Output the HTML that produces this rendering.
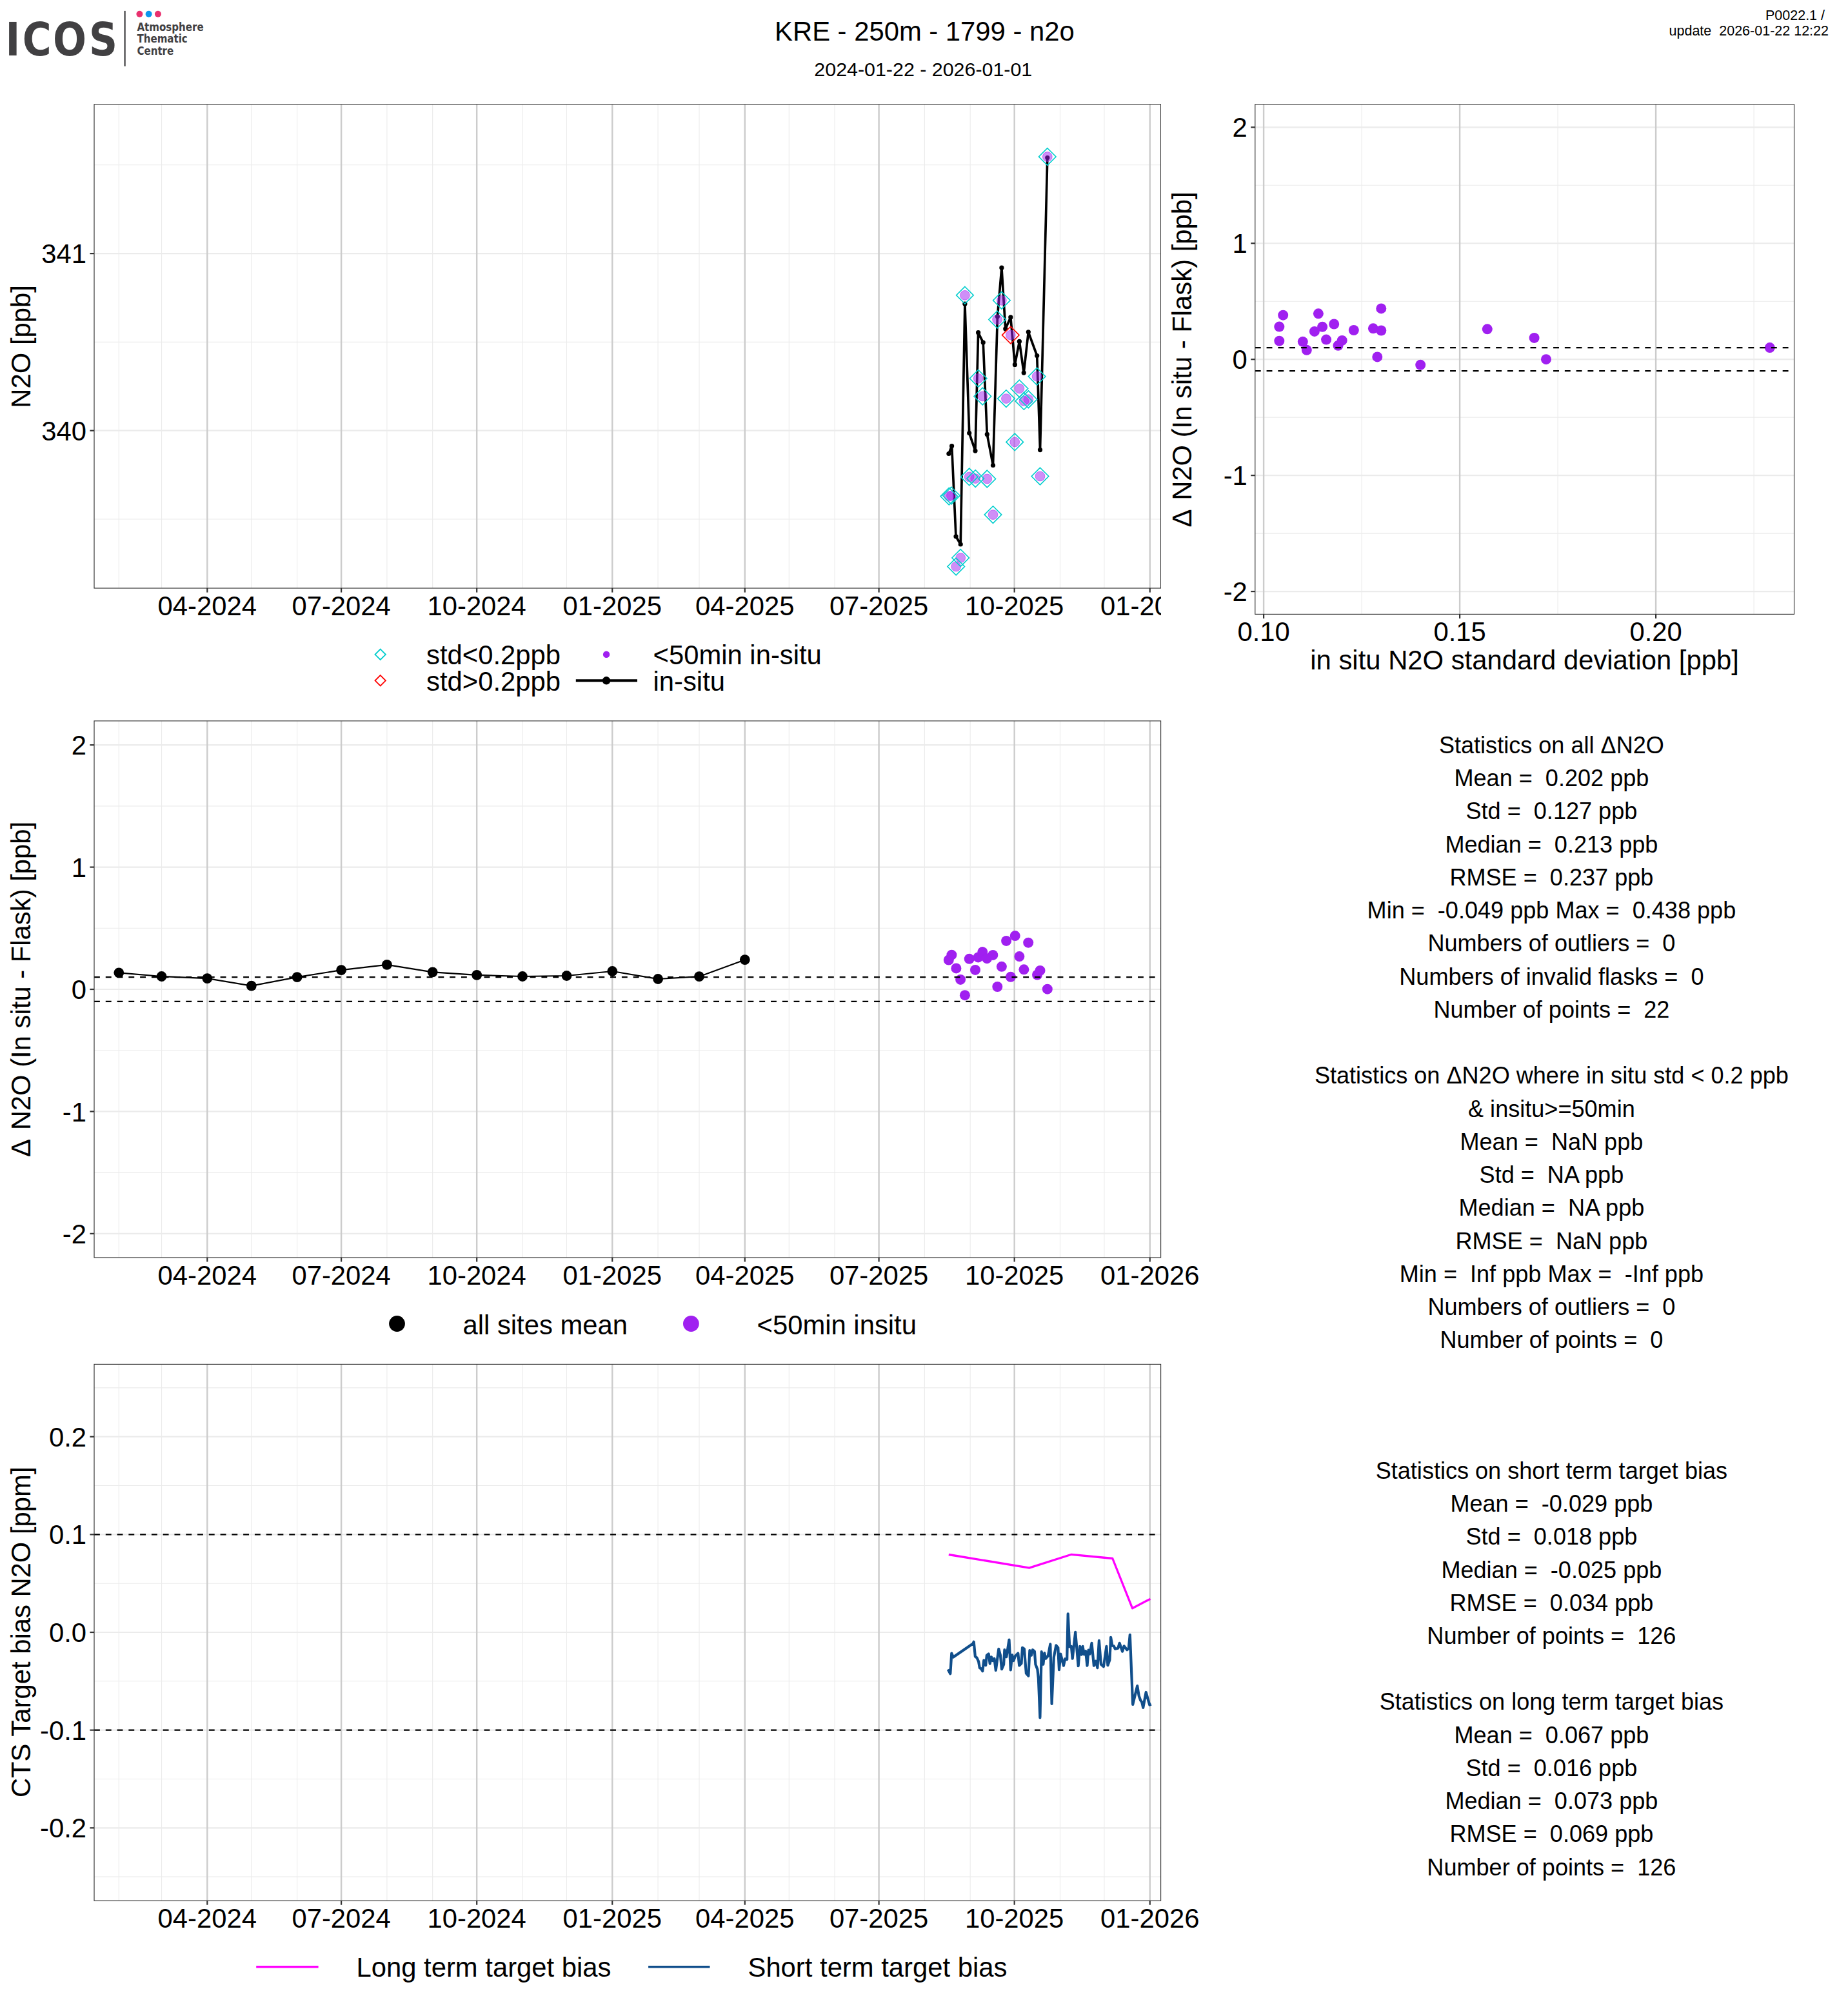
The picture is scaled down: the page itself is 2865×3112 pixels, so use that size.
<!DOCTYPE html>
<html lang="en"><head><meta charset="utf-8"><title>KRE - 250m - 1799 - n2o</title>
<style>html,body{margin:0;padding:0;background:#fff}body{width:2865px;height:3112px;overflow:hidden}svg{display:block}text{font-family:"Liberation Sans",sans-serif;fill:#000;white-space:pre}.b{font-family:"DejaVu Sans Condensed","DejaVu Sans",sans-serif;font-stretch:condensed;font-weight:bold;fill:#414042}</style>
</head><body>
<svg width="2865" height="3112" viewBox="0 0 2865 3112">
<rect width="2865" height="3112" fill="#fff"/>
<text class="b" transform="scale(0.96,1)" x="8.92 36.08 85.52 143.70" y="85.6" font-size="70.8">ICOS</text>
<line x1="193.6" x2="193.6" y1="16.9" y2="102.7" stroke="#414042" stroke-width="2.2"/>
<circle cx="216.4" cy="21.7" r="5" fill="#e8306e"/><circle cx="230.6" cy="21.7" r="5" fill="#0c96ee"/><circle cx="244.9" cy="21.7" r="5" fill="#e8306e"/>
<text class="b" x="212.4" y="47.5" font-size="16.75">Atmosphere</text>
<text class="b" x="212.4" y="65.9" font-size="16.75">Thematic</text>
<text class="b" x="212.4" y="84.6" font-size="16.75">Centre</text>
<text x="1433.40" y="62.90" font-size="41.8" text-anchor="middle" >KRE - 250m - 1799 - n2o</text>
<text x="1431.30" y="117.50" font-size="30.4" text-anchor="middle" >2024-01-22 - 2026-01-01</text>
<text x="2835.00" y="30.50" font-size="21.5" text-anchor="end" >P0022.1 / </text>
<text x="2835.00" y="54.50" font-size="21.5" text-anchor="end" >update  2026-01-22 12:22</text>
<clipPath id="c1"><rect x="146" y="161.8" width="1653.60" height="750.20"/></clipPath>
<g clip-path="url(#c1)">
<rect x="146" y="161.8" width="1653.60" height="750.20" fill="#fff"/>
<line x1="146" x2="1799.6" y1="255.80" y2="255.80" stroke="#ebebeb" stroke-width="1.1"/>
<line x1="146" x2="1799.6" y1="530.40" y2="530.40" stroke="#ebebeb" stroke-width="1.1"/>
<line x1="146" x2="1799.6" y1="805.00" y2="805.00" stroke="#ebebeb" stroke-width="1.1"/>
<line y1="161.8" y2="912" x1="113.50" x2="113.50" stroke="#ebebeb" stroke-width="1.1"/>
<line y1="161.8" y2="912" x1="184.29" x2="184.29" stroke="#ebebeb" stroke-width="1.1"/>
<line y1="161.8" y2="912" x1="250.51" x2="250.51" stroke="#ebebeb" stroke-width="1.1"/>
<line y1="161.8" y2="912" x1="321.30" x2="321.30" stroke="#ebebeb" stroke-width="1.1"/>
<line y1="161.8" y2="912" x1="389.81" x2="389.81" stroke="#ebebeb" stroke-width="1.1"/>
<line y1="161.8" y2="912" x1="460.59" x2="460.59" stroke="#ebebeb" stroke-width="1.1"/>
<line y1="161.8" y2="912" x1="529.10" x2="529.10" stroke="#ebebeb" stroke-width="1.1"/>
<line y1="161.8" y2="912" x1="599.89" x2="599.89" stroke="#ebebeb" stroke-width="1.1"/>
<line y1="161.8" y2="912" x1="670.68" x2="670.68" stroke="#ebebeb" stroke-width="1.1"/>
<line y1="161.8" y2="912" x1="739.18" x2="739.18" stroke="#ebebeb" stroke-width="1.1"/>
<line y1="161.8" y2="912" x1="809.97" x2="809.97" stroke="#ebebeb" stroke-width="1.1"/>
<line y1="161.8" y2="912" x1="878.47" x2="878.47" stroke="#ebebeb" stroke-width="1.1"/>
<line y1="161.8" y2="912" x1="949.26" x2="949.26" stroke="#ebebeb" stroke-width="1.1"/>
<line y1="161.8" y2="912" x1="1020.05" x2="1020.05" stroke="#ebebeb" stroke-width="1.1"/>
<line y1="161.8" y2="912" x1="1083.99" x2="1083.99" stroke="#ebebeb" stroke-width="1.1"/>
<line y1="161.8" y2="912" x1="1154.78" x2="1154.78" stroke="#ebebeb" stroke-width="1.1"/>
<line y1="161.8" y2="912" x1="1223.28" x2="1223.28" stroke="#ebebeb" stroke-width="1.1"/>
<line y1="161.8" y2="912" x1="1294.07" x2="1294.07" stroke="#ebebeb" stroke-width="1.1"/>
<line y1="161.8" y2="912" x1="1362.58" x2="1362.58" stroke="#ebebeb" stroke-width="1.1"/>
<line y1="161.8" y2="912" x1="1433.36" x2="1433.36" stroke="#ebebeb" stroke-width="1.1"/>
<line y1="161.8" y2="912" x1="1504.15" x2="1504.15" stroke="#ebebeb" stroke-width="1.1"/>
<line y1="161.8" y2="912" x1="1572.66" x2="1572.66" stroke="#ebebeb" stroke-width="1.1"/>
<line y1="161.8" y2="912" x1="1643.45" x2="1643.45" stroke="#ebebeb" stroke-width="1.1"/>
<line y1="161.8" y2="912" x1="1711.95" x2="1711.95" stroke="#ebebeb" stroke-width="1.1"/>
<line y1="161.8" y2="912" x1="1782.74" x2="1782.74" stroke="#ebebeb" stroke-width="1.1"/>
<line x1="146" x2="1799.6" y1="393.10" y2="393.10" stroke="#ebebeb" stroke-width="2.2"/>
<line x1="146" x2="1799.6" y1="667.70" y2="667.70" stroke="#ebebeb" stroke-width="2.2"/>
<line y1="161.8" y2="912" x1="321.30" x2="321.30" stroke="#cccccc" stroke-width="2.4"/>
<line y1="161.8" y2="912" x1="529.10" x2="529.10" stroke="#cccccc" stroke-width="2.4"/>
<line y1="161.8" y2="912" x1="739.18" x2="739.18" stroke="#cccccc" stroke-width="2.4"/>
<line y1="161.8" y2="912" x1="949.26" x2="949.26" stroke="#cccccc" stroke-width="2.4"/>
<line y1="161.8" y2="912" x1="1154.78" x2="1154.78" stroke="#cccccc" stroke-width="2.4"/>
<line y1="161.8" y2="912" x1="1362.58" x2="1362.58" stroke="#cccccc" stroke-width="2.4"/>
<line y1="161.8" y2="912" x1="1572.66" x2="1572.66" stroke="#cccccc" stroke-width="2.4"/>
<line y1="161.8" y2="912" x1="1782.74" x2="1782.74" stroke="#cccccc" stroke-width="2.4"/>
</g>
<g clip-path="url(#c1)">
<polyline fill="none" stroke="#000" stroke-width="3.7" stroke-linejoin="round" points="1470.9,703.5 1475.6,691.5 1482.0,831.8 1489.2,844.0 1495.9,471.2 1502.7,671.6 1512.0,699.1 1516.6,515.7 1524.2,531.1 1530.3,673.4 1539.5,721.5 1546.4,490.8 1552.9,415.2 1558.8,509.9 1566.8,491.9 1573.4,565.4 1580.4,529.4 1587.2,578.1 1594.3,514.8 1607.7,551.5 1612.5,697.6 1623.8,244.5"/>
<circle cx="1470.9" cy="703.5" r="3.6" fill="#000"/>
<circle cx="1475.6" cy="691.5" r="3.6" fill="#000"/>
<circle cx="1482.0" cy="831.8" r="3.6" fill="#000"/>
<circle cx="1489.2" cy="844.0" r="3.6" fill="#000"/>
<circle cx="1495.9" cy="471.2" r="3.6" fill="#000"/>
<circle cx="1502.7" cy="671.6" r="3.6" fill="#000"/>
<circle cx="1512.0" cy="699.1" r="3.6" fill="#000"/>
<circle cx="1516.6" cy="515.7" r="3.6" fill="#000"/>
<circle cx="1524.2" cy="531.1" r="3.6" fill="#000"/>
<circle cx="1530.3" cy="673.4" r="3.6" fill="#000"/>
<circle cx="1539.5" cy="721.5" r="3.6" fill="#000"/>
<circle cx="1546.4" cy="490.8" r="3.6" fill="#000"/>
<circle cx="1552.9" cy="415.2" r="3.6" fill="#000"/>
<circle cx="1558.8" cy="509.9" r="3.6" fill="#000"/>
<circle cx="1566.8" cy="491.9" r="3.6" fill="#000"/>
<circle cx="1573.4" cy="565.4" r="3.6" fill="#000"/>
<circle cx="1580.4" cy="529.4" r="3.6" fill="#000"/>
<circle cx="1587.2" cy="578.1" r="3.6" fill="#000"/>
<circle cx="1594.3" cy="514.8" r="3.6" fill="#000"/>
<circle cx="1607.7" cy="551.5" r="3.6" fill="#000"/>
<circle cx="1612.5" cy="697.6" r="3.6" fill="#000"/>
<circle cx="1623.8" cy="244.5" r="3.6" fill="#000"/>
<circle cx="1623.8" cy="243.0" r="7.4" fill="#a020f0" fill-opacity="0.5" stroke="#a020f0" stroke-opacity="0.5" stroke-width="1"/>
<circle cx="1495.9" cy="457.8" r="7.4" fill="#a020f0" fill-opacity="0.5" stroke="#a020f0" stroke-opacity="0.5" stroke-width="1"/>
<circle cx="1552.9" cy="465.8" r="7.4" fill="#a020f0" fill-opacity="0.5" stroke="#a020f0" stroke-opacity="0.5" stroke-width="1"/>
<circle cx="1546.1" cy="495.5" r="7.4" fill="#a020f0" fill-opacity="0.5" stroke="#a020f0" stroke-opacity="0.5" stroke-width="1"/>
<circle cx="1516.7" cy="586.8" r="7.4" fill="#a020f0" fill-opacity="0.5" stroke="#a020f0" stroke-opacity="0.5" stroke-width="1"/>
<circle cx="1607.6" cy="583.7" r="7.4" fill="#a020f0" fill-opacity="0.5" stroke="#a020f0" stroke-opacity="0.5" stroke-width="1"/>
<circle cx="1580.4" cy="602.5" r="7.4" fill="#a020f0" fill-opacity="0.5" stroke="#a020f0" stroke-opacity="0.5" stroke-width="1"/>
<circle cx="1523.3" cy="614.5" r="7.4" fill="#a020f0" fill-opacity="0.5" stroke="#a020f0" stroke-opacity="0.5" stroke-width="1"/>
<circle cx="1559.9" cy="618.1" r="7.4" fill="#a020f0" fill-opacity="0.5" stroke="#a020f0" stroke-opacity="0.5" stroke-width="1"/>
<circle cx="1587.4" cy="621.9" r="7.4" fill="#a020f0" fill-opacity="0.5" stroke="#a020f0" stroke-opacity="0.5" stroke-width="1"/>
<circle cx="1594.4" cy="619.2" r="7.4" fill="#a020f0" fill-opacity="0.5" stroke="#a020f0" stroke-opacity="0.5" stroke-width="1"/>
<circle cx="1573.2" cy="685.4" r="7.4" fill="#a020f0" fill-opacity="0.5" stroke="#a020f0" stroke-opacity="0.5" stroke-width="1"/>
<circle cx="1612.5" cy="738.5" r="7.4" fill="#a020f0" fill-opacity="0.5" stroke="#a020f0" stroke-opacity="0.5" stroke-width="1"/>
<circle cx="1502.7" cy="739.4" r="7.4" fill="#a020f0" fill-opacity="0.5" stroke="#a020f0" stroke-opacity="0.5" stroke-width="1"/>
<circle cx="1512.2" cy="742.1" r="7.4" fill="#a020f0" fill-opacity="0.5" stroke="#a020f0" stroke-opacity="0.5" stroke-width="1"/>
<circle cx="1530.3" cy="742.5" r="7.4" fill="#a020f0" fill-opacity="0.5" stroke="#a020f0" stroke-opacity="0.5" stroke-width="1"/>
<circle cx="1471.3" cy="769.6" r="7.4" fill="#a020f0" fill-opacity="0.5" stroke="#a020f0" stroke-opacity="0.5" stroke-width="1"/>
<circle cx="1474.9" cy="768.5" r="7.4" fill="#a020f0" fill-opacity="0.5" stroke="#a020f0" stroke-opacity="0.5" stroke-width="1"/>
<circle cx="1539.5" cy="798.1" r="7.4" fill="#a020f0" fill-opacity="0.5" stroke="#a020f0" stroke-opacity="0.5" stroke-width="1"/>
<circle cx="1489.2" cy="865.0" r="7.4" fill="#a020f0" fill-opacity="0.5" stroke="#a020f0" stroke-opacity="0.5" stroke-width="1"/>
<circle cx="1482.2" cy="878.5" r="7.4" fill="#a020f0" fill-opacity="0.5" stroke="#a020f0" stroke-opacity="0.5" stroke-width="1"/>
<circle cx="1566.8" cy="519.6" r="7.4" fill="#a020f0" fill-opacity="0.5" stroke="#a020f0" stroke-opacity="0.5" stroke-width="1"/>
<path d="M1623.8 229.7L1637.1 243.0L1623.8 256.3L1610.5 243.0Z" fill="none" stroke="#00cdcd" stroke-width="1.6"/>
<path d="M1495.9 444.5L1509.2 457.8L1495.9 471.1L1482.6 457.8Z" fill="none" stroke="#00cdcd" stroke-width="1.6"/>
<path d="M1552.9 452.5L1566.2 465.8L1552.9 479.1L1539.6 465.8Z" fill="none" stroke="#00cdcd" stroke-width="1.6"/>
<path d="M1546.1 482.2L1559.4 495.5L1546.1 508.8L1532.8 495.5Z" fill="none" stroke="#00cdcd" stroke-width="1.6"/>
<path d="M1516.7 573.5L1530.0 586.8L1516.7 600.1L1503.4 586.8Z" fill="none" stroke="#00cdcd" stroke-width="1.6"/>
<path d="M1607.6 570.4L1620.9 583.7L1607.6 597.0L1594.3 583.7Z" fill="none" stroke="#00cdcd" stroke-width="1.6"/>
<path d="M1580.4 589.2L1593.7 602.5L1580.4 615.8L1567.1 602.5Z" fill="none" stroke="#00cdcd" stroke-width="1.6"/>
<path d="M1523.3 601.2L1536.6 614.5L1523.3 627.8L1510.0 614.5Z" fill="none" stroke="#00cdcd" stroke-width="1.6"/>
<path d="M1559.9 604.8L1573.2 618.1L1559.9 631.4L1546.6 618.1Z" fill="none" stroke="#00cdcd" stroke-width="1.6"/>
<path d="M1587.4 608.6L1600.7 621.9L1587.4 635.2L1574.1 621.9Z" fill="none" stroke="#00cdcd" stroke-width="1.6"/>
<path d="M1594.4 605.9L1607.7 619.2L1594.4 632.5L1581.1 619.2Z" fill="none" stroke="#00cdcd" stroke-width="1.6"/>
<path d="M1573.2 672.1L1586.5 685.4L1573.2 698.7L1559.9 685.4Z" fill="none" stroke="#00cdcd" stroke-width="1.6"/>
<path d="M1612.5 725.2L1625.8 738.5L1612.5 751.8L1599.2 738.5Z" fill="none" stroke="#00cdcd" stroke-width="1.6"/>
<path d="M1502.7 726.1L1516.0 739.4L1502.7 752.7L1489.4 739.4Z" fill="none" stroke="#00cdcd" stroke-width="1.6"/>
<path d="M1512.2 728.8L1525.5 742.1L1512.2 755.4L1498.9 742.1Z" fill="none" stroke="#00cdcd" stroke-width="1.6"/>
<path d="M1530.3 729.2L1543.6 742.5L1530.3 755.8L1517.0 742.5Z" fill="none" stroke="#00cdcd" stroke-width="1.6"/>
<path d="M1471.3 756.3L1484.6 769.6L1471.3 782.9L1458.0 769.6Z" fill="none" stroke="#00cdcd" stroke-width="1.6"/>
<path d="M1474.9 755.2L1488.2 768.5L1474.9 781.8L1461.6 768.5Z" fill="none" stroke="#00cdcd" stroke-width="1.6"/>
<path d="M1539.5 784.8L1552.8 798.1L1539.5 811.4L1526.2 798.1Z" fill="none" stroke="#00cdcd" stroke-width="1.6"/>
<path d="M1489.2 851.7L1502.5 865.0L1489.2 878.3L1475.9 865.0Z" fill="none" stroke="#00cdcd" stroke-width="1.6"/>
<path d="M1482.2 865.2L1495.5 878.5L1482.2 891.8L1468.9 878.5Z" fill="none" stroke="#00cdcd" stroke-width="1.6"/>
<path d="M1566.8 506.3L1580.1 519.6L1566.8 532.9L1553.5 519.6Z" fill="none" stroke="#ff0000" stroke-width="1.6"/>
</g>
<clipPath id="cx1"><rect x="0" y="100" width="1800" height="900"/></clipPath>
<g clip-path="url(#cx1)">
<rect x="146" y="161.8" width="1653.60" height="750.20" fill="none" stroke="#333333" stroke-width="1.15"/>
</g>
<line x1="321.30" x2="321.30" y1="912" y2="918.60" stroke="#333333" stroke-width="2.2"/>
<line x1="529.10" x2="529.10" y1="912" y2="918.60" stroke="#333333" stroke-width="2.2"/>
<line x1="739.18" x2="739.18" y1="912" y2="918.60" stroke="#333333" stroke-width="2.2"/>
<line x1="949.26" x2="949.26" y1="912" y2="918.60" stroke="#333333" stroke-width="2.2"/>
<line x1="1154.78" x2="1154.78" y1="912" y2="918.60" stroke="#333333" stroke-width="2.2"/>
<line x1="1362.58" x2="1362.58" y1="912" y2="918.60" stroke="#333333" stroke-width="2.2"/>
<line x1="1572.66" x2="1572.66" y1="912" y2="918.60" stroke="#333333" stroke-width="2.2"/>
<line x1="1782.74" x2="1782.74" y1="912" y2="918.60" stroke="#333333" stroke-width="2.2"/>
<line y1="393.10" y2="393.10" x1="139.40" x2="146" stroke="#333333" stroke-width="2.2"/>
<line y1="667.70" y2="667.70" x1="139.40" x2="146" stroke="#333333" stroke-width="2.2"/>
<g clip-path="url(#cx1)">
<text x="321.30" y="953.80" font-size="41.8" text-anchor="middle" >04-2024</text>
<text x="529.10" y="953.80" font-size="41.8" text-anchor="middle" >07-2024</text>
<text x="739.18" y="953.80" font-size="41.8" text-anchor="middle" >10-2024</text>
<text x="949.26" y="953.80" font-size="41.8" text-anchor="middle" >01-2025</text>
<text x="1154.78" y="953.80" font-size="41.8" text-anchor="middle" >04-2025</text>
<text x="1362.58" y="953.80" font-size="41.8" text-anchor="middle" >07-2025</text>
<text x="1572.66" y="953.80" font-size="41.8" text-anchor="middle" >10-2025</text>
<text x="1782.74" y="953.80" font-size="41.8" text-anchor="middle" >01-2026</text>
</g>
<text x="134.00" y="408.20" font-size="41.8" text-anchor="end" >341</text>
<text x="134.00" y="682.80" font-size="41.8" text-anchor="end" >340</text>
<text transform="translate(47.00,537.40) rotate(-90)" font-size="41.8" text-anchor="middle">N2O [ppb]</text>
<path d="M589.7 1006.6L597.9 1014.8L589.7 1023.0L581.5 1014.8Z" fill="none" stroke="#00cdcd" stroke-width="1.8"/>
<path d="M589.7 1047.1L597.9 1055.3L589.7 1063.5L581.5 1055.3Z" fill="none" stroke="#ff0000" stroke-width="1.8"/>
<text x="661.00" y="1030.20" font-size="41.8" text-anchor="start" >std&lt;0.2ppb</text>
<text x="661.00" y="1070.90" font-size="41.8" text-anchor="start" >std&gt;0.2ppb</text>
<circle cx="940.1" cy="1014.8" r="5.2" fill="#a020f0"/>
<line x1="892.8" x2="988" y1="1055.3" y2="1055.3" stroke="#000" stroke-width="3.9"/><circle cx="940.1" cy="1055.3" r="6.2" fill="#000"/>
<text x="1012.50" y="1030.20" font-size="41.8" text-anchor="start" >&lt;50min in-situ</text>
<text x="1012.50" y="1070.90" font-size="41.8" text-anchor="start" >in-situ</text>
<clipPath id="c2"><rect x="1945.8" y="161.8" width="835.70" height="790.60"/></clipPath>
<g clip-path="url(#c2)">
<rect x="1945.8" y="161.8" width="835.70" height="790.60" fill="#fff"/>
<line x1="1945.8" x2="2781.5" y1="287.29" y2="287.29" stroke="#ebebeb" stroke-width="1.1"/>
<line x1="1945.8" x2="2781.5" y1="467.23" y2="467.23" stroke="#ebebeb" stroke-width="1.1"/>
<line x1="1945.8" x2="2781.5" y1="647.17" y2="647.17" stroke="#ebebeb" stroke-width="1.1"/>
<line x1="1945.8" x2="2781.5" y1="827.11" y2="827.11" stroke="#ebebeb" stroke-width="1.1"/>
<line y1="161.8" y2="952.4" x1="2111.10" x2="2111.10" stroke="#ebebeb" stroke-width="1.1"/>
<line y1="161.8" y2="952.4" x1="2415.10" x2="2415.10" stroke="#ebebeb" stroke-width="1.1"/>
<line y1="161.8" y2="952.4" x1="2719.10" x2="2719.10" stroke="#ebebeb" stroke-width="1.1"/>
<line x1="1945.8" x2="2781.5" y1="197.32" y2="197.32" stroke="#ebebeb" stroke-width="2.2"/>
<line x1="1945.8" x2="2781.5" y1="377.26" y2="377.26" stroke="#ebebeb" stroke-width="2.2"/>
<line x1="1945.8" x2="2781.5" y1="557.20" y2="557.20" stroke="#ebebeb" stroke-width="2.2"/>
<line x1="1945.8" x2="2781.5" y1="737.14" y2="737.14" stroke="#ebebeb" stroke-width="2.2"/>
<line x1="1945.8" x2="2781.5" y1="917.08" y2="917.08" stroke="#ebebeb" stroke-width="2.2"/>
<line y1="161.8" y2="952.4" x1="1959.10" x2="1959.10" stroke="#cccccc" stroke-width="2.4"/>
<line y1="161.8" y2="952.4" x1="2263.10" x2="2263.10" stroke="#cccccc" stroke-width="2.4"/>
<line y1="161.8" y2="952.4" x1="2567.10" x2="2567.10" stroke="#cccccc" stroke-width="2.4"/>
</g>
<g clip-path="url(#c2)">
<circle cx="1989.2" cy="488.7" r="8" fill="#a020f0"/>
<circle cx="1983.3" cy="506.6" r="8" fill="#a020f0"/>
<circle cx="1983.3" cy="528.7" r="8" fill="#a020f0"/>
<circle cx="2019.8" cy="529.8" r="8" fill="#a020f0"/>
<circle cx="2025.8" cy="542.8" r="8" fill="#a020f0"/>
<circle cx="2037.9" cy="513.9" r="8" fill="#a020f0"/>
<circle cx="2043.9" cy="486.3" r="8" fill="#a020f0"/>
<circle cx="2050.1" cy="506.8" r="8" fill="#a020f0"/>
<circle cx="2056.1" cy="526.6" r="8" fill="#a020f0"/>
<circle cx="2068.2" cy="502.5" r="8" fill="#a020f0"/>
<circle cx="2074.5" cy="535.8" r="8" fill="#a020f0"/>
<circle cx="2080.7" cy="527.9" r="8" fill="#a020f0"/>
<circle cx="2098.8" cy="512.0" r="8" fill="#a020f0"/>
<circle cx="2128.9" cy="509.3" r="8" fill="#a020f0"/>
<circle cx="2141.3" cy="478.4" r="8" fill="#a020f0"/>
<circle cx="2141.3" cy="512.5" r="8" fill="#a020f0"/>
<circle cx="2135.3" cy="553.4" r="8" fill="#a020f0"/>
<circle cx="2202.2" cy="565.8" r="8" fill="#a020f0"/>
<circle cx="2305.8" cy="510.3" r="8" fill="#a020f0"/>
<circle cx="2378.6" cy="523.9" r="8" fill="#a020f0"/>
<circle cx="2397.0" cy="557.2" r="8" fill="#a020f0"/>
<circle cx="2743.8" cy="539.1" r="8" fill="#a020f0"/>
</g>
<line x1="1945.8" x2="2781.5" y1="539.21" y2="539.21" stroke="#000" stroke-width="2.3" stroke-dasharray="8.89 8.89" clip-path="url(#c2)"/>
<line x1="1945.8" x2="2781.5" y1="575.19" y2="575.19" stroke="#000" stroke-width="2.3" stroke-dasharray="8.89 8.89" clip-path="url(#c2)"/>
<rect x="1945.8" y="161.8" width="835.70" height="790.60" fill="none" stroke="#333333" stroke-width="1.15"/>
<line x1="1959.10" x2="1959.10" y1="952.4" y2="959.00" stroke="#333333" stroke-width="2.2"/>
<line x1="2263.10" x2="2263.10" y1="952.4" y2="959.00" stroke="#333333" stroke-width="2.2"/>
<line x1="2567.10" x2="2567.10" y1="952.4" y2="959.00" stroke="#333333" stroke-width="2.2"/>
<line y1="197.32" y2="197.32" x1="1939.20" x2="1945.8" stroke="#333333" stroke-width="2.2"/>
<line y1="377.26" y2="377.26" x1="1939.20" x2="1945.8" stroke="#333333" stroke-width="2.2"/>
<line y1="557.20" y2="557.20" x1="1939.20" x2="1945.8" stroke="#333333" stroke-width="2.2"/>
<line y1="737.14" y2="737.14" x1="1939.20" x2="1945.8" stroke="#333333" stroke-width="2.2"/>
<line y1="917.08" y2="917.08" x1="1939.20" x2="1945.8" stroke="#333333" stroke-width="2.2"/>
<text x="1959.10" y="994.20" font-size="41.8" text-anchor="middle" >0.10</text>
<text x="2263.10" y="994.20" font-size="41.8" text-anchor="middle" >0.15</text>
<text x="2567.10" y="994.20" font-size="41.8" text-anchor="middle" >0.20</text>
<text x="1933.80" y="212.42" font-size="41.8" text-anchor="end" >2</text>
<text x="1933.80" y="392.36" font-size="41.8" text-anchor="end" >1</text>
<text x="1933.80" y="572.30" font-size="41.8" text-anchor="end" >0</text>
<text x="1933.80" y="752.24" font-size="41.8" text-anchor="end" >-1</text>
<text x="1933.80" y="932.18" font-size="41.8" text-anchor="end" >-2</text>
<text x="2363.60" y="1038.00" font-size="41.8" text-anchor="middle" >in situ N2O standard deviation [ppb]</text>
<text transform="translate(1847.10,557.50) rotate(-90)" font-size="41.8" text-anchor="middle">Δ<tspan dx="4.5"> </tspan>N2O (In situ - Flask) [ppb]</text>
<clipPath id="c3"><rect x="146" y="1117.85" width="1653.60" height="832.10"/></clipPath>
<g clip-path="url(#c3)">
<rect x="146" y="1117.85" width="1653.60" height="832.10" fill="#fff"/>
<line x1="146" x2="1799.6" y1="1249.86" y2="1249.86" stroke="#ebebeb" stroke-width="1.1"/>
<line x1="146" x2="1799.6" y1="1439.29" y2="1439.29" stroke="#ebebeb" stroke-width="1.1"/>
<line x1="146" x2="1799.6" y1="1628.71" y2="1628.71" stroke="#ebebeb" stroke-width="1.1"/>
<line x1="146" x2="1799.6" y1="1818.14" y2="1818.14" stroke="#ebebeb" stroke-width="1.1"/>
<line y1="1117.85" y2="1949.95" x1="113.50" x2="113.50" stroke="#ebebeb" stroke-width="1.1"/>
<line y1="1117.85" y2="1949.95" x1="184.29" x2="184.29" stroke="#ebebeb" stroke-width="1.1"/>
<line y1="1117.85" y2="1949.95" x1="250.51" x2="250.51" stroke="#ebebeb" stroke-width="1.1"/>
<line y1="1117.85" y2="1949.95" x1="321.30" x2="321.30" stroke="#ebebeb" stroke-width="1.1"/>
<line y1="1117.85" y2="1949.95" x1="389.81" x2="389.81" stroke="#ebebeb" stroke-width="1.1"/>
<line y1="1117.85" y2="1949.95" x1="460.59" x2="460.59" stroke="#ebebeb" stroke-width="1.1"/>
<line y1="1117.85" y2="1949.95" x1="529.10" x2="529.10" stroke="#ebebeb" stroke-width="1.1"/>
<line y1="1117.85" y2="1949.95" x1="599.89" x2="599.89" stroke="#ebebeb" stroke-width="1.1"/>
<line y1="1117.85" y2="1949.95" x1="670.68" x2="670.68" stroke="#ebebeb" stroke-width="1.1"/>
<line y1="1117.85" y2="1949.95" x1="739.18" x2="739.18" stroke="#ebebeb" stroke-width="1.1"/>
<line y1="1117.85" y2="1949.95" x1="809.97" x2="809.97" stroke="#ebebeb" stroke-width="1.1"/>
<line y1="1117.85" y2="1949.95" x1="878.47" x2="878.47" stroke="#ebebeb" stroke-width="1.1"/>
<line y1="1117.85" y2="1949.95" x1="949.26" x2="949.26" stroke="#ebebeb" stroke-width="1.1"/>
<line y1="1117.85" y2="1949.95" x1="1020.05" x2="1020.05" stroke="#ebebeb" stroke-width="1.1"/>
<line y1="1117.85" y2="1949.95" x1="1083.99" x2="1083.99" stroke="#ebebeb" stroke-width="1.1"/>
<line y1="1117.85" y2="1949.95" x1="1154.78" x2="1154.78" stroke="#ebebeb" stroke-width="1.1"/>
<line y1="1117.85" y2="1949.95" x1="1223.28" x2="1223.28" stroke="#ebebeb" stroke-width="1.1"/>
<line y1="1117.85" y2="1949.95" x1="1294.07" x2="1294.07" stroke="#ebebeb" stroke-width="1.1"/>
<line y1="1117.85" y2="1949.95" x1="1362.58" x2="1362.58" stroke="#ebebeb" stroke-width="1.1"/>
<line y1="1117.85" y2="1949.95" x1="1433.36" x2="1433.36" stroke="#ebebeb" stroke-width="1.1"/>
<line y1="1117.85" y2="1949.95" x1="1504.15" x2="1504.15" stroke="#ebebeb" stroke-width="1.1"/>
<line y1="1117.85" y2="1949.95" x1="1572.66" x2="1572.66" stroke="#ebebeb" stroke-width="1.1"/>
<line y1="1117.85" y2="1949.95" x1="1643.45" x2="1643.45" stroke="#ebebeb" stroke-width="1.1"/>
<line y1="1117.85" y2="1949.95" x1="1711.95" x2="1711.95" stroke="#ebebeb" stroke-width="1.1"/>
<line y1="1117.85" y2="1949.95" x1="1782.74" x2="1782.74" stroke="#ebebeb" stroke-width="1.1"/>
<line x1="146" x2="1799.6" y1="1155.14" y2="1155.14" stroke="#ebebeb" stroke-width="2.2"/>
<line x1="146" x2="1799.6" y1="1344.57" y2="1344.57" stroke="#ebebeb" stroke-width="2.2"/>
<line x1="146" x2="1799.6" y1="1534.00" y2="1534.00" stroke="#ebebeb" stroke-width="2.2"/>
<line x1="146" x2="1799.6" y1="1723.43" y2="1723.43" stroke="#ebebeb" stroke-width="2.2"/>
<line x1="146" x2="1799.6" y1="1912.86" y2="1912.86" stroke="#ebebeb" stroke-width="2.2"/>
<line y1="1117.85" y2="1949.95" x1="321.30" x2="321.30" stroke="#cccccc" stroke-width="2.4"/>
<line y1="1117.85" y2="1949.95" x1="529.10" x2="529.10" stroke="#cccccc" stroke-width="2.4"/>
<line y1="1117.85" y2="1949.95" x1="739.18" x2="739.18" stroke="#cccccc" stroke-width="2.4"/>
<line y1="1117.85" y2="1949.95" x1="949.26" x2="949.26" stroke="#cccccc" stroke-width="2.4"/>
<line y1="1117.85" y2="1949.95" x1="1154.78" x2="1154.78" stroke="#cccccc" stroke-width="2.4"/>
<line y1="1117.85" y2="1949.95" x1="1362.58" x2="1362.58" stroke="#cccccc" stroke-width="2.4"/>
<line y1="1117.85" y2="1949.95" x1="1572.66" x2="1572.66" stroke="#cccccc" stroke-width="2.4"/>
<line y1="1117.85" y2="1949.95" x1="1782.74" x2="1782.74" stroke="#cccccc" stroke-width="2.4"/>
</g>
<g clip-path="url(#c3)">
<polyline fill="none" stroke="#000" stroke-width="2.2" points="184.3,1508.3 250.5,1514.0 321.3,1517.1 389.8,1528.6 460.6,1515.1 529.1,1504.2 599.9,1495.8 670.7,1507.3 739.2,1511.9 810.0,1514.0 878.5,1513.0 949.3,1506.0 1020.1,1518.0 1084.0,1514.2 1154.8,1488.2"/>
<circle cx="184.3" cy="1508.3" r="7.9" fill="#000"/>
<circle cx="250.5" cy="1514.0" r="7.9" fill="#000"/>
<circle cx="321.3" cy="1517.1" r="7.9" fill="#000"/>
<circle cx="389.8" cy="1528.6" r="7.9" fill="#000"/>
<circle cx="460.6" cy="1515.1" r="7.9" fill="#000"/>
<circle cx="529.1" cy="1504.2" r="7.9" fill="#000"/>
<circle cx="599.9" cy="1495.8" r="7.9" fill="#000"/>
<circle cx="670.7" cy="1507.3" r="7.9" fill="#000"/>
<circle cx="739.2" cy="1511.9" r="7.9" fill="#000"/>
<circle cx="810.0" cy="1514.0" r="7.9" fill="#000"/>
<circle cx="878.5" cy="1513.0" r="7.9" fill="#000"/>
<circle cx="949.3" cy="1506.0" r="7.9" fill="#000"/>
<circle cx="1020.1" cy="1518.0" r="7.9" fill="#000"/>
<circle cx="1084.0" cy="1514.2" r="7.9" fill="#000"/>
<circle cx="1154.8" cy="1488.2" r="7.9" fill="#000"/>
<circle cx="1470.8" cy="1488.5" r="8" fill="#a020f0"/>
<circle cx="1475.4" cy="1480.7" r="8" fill="#a020f0"/>
<circle cx="1482.4" cy="1501.4" r="8" fill="#a020f0"/>
<circle cx="1489.1" cy="1518.9" r="8" fill="#a020f0"/>
<circle cx="1495.9" cy="1543.2" r="8" fill="#a020f0"/>
<circle cx="1502.7" cy="1486.8" r="8" fill="#a020f0"/>
<circle cx="1512.0" cy="1503.9" r="8" fill="#a020f0"/>
<circle cx="1516.5" cy="1484.4" r="8" fill="#a020f0"/>
<circle cx="1523.3" cy="1476.1" r="8" fill="#a020f0"/>
<circle cx="1530.1" cy="1486.2" r="8" fill="#a020f0"/>
<circle cx="1539.3" cy="1480.9" r="8" fill="#a020f0"/>
<circle cx="1546.3" cy="1530.0" r="8" fill="#a020f0"/>
<circle cx="1552.9" cy="1498.8" r="8" fill="#a020f0"/>
<circle cx="1560.1" cy="1458.9" r="8" fill="#a020f0"/>
<circle cx="1566.9" cy="1514.8" r="8" fill="#a020f0"/>
<circle cx="1573.7" cy="1451.1" r="8" fill="#a020f0"/>
<circle cx="1580.4" cy="1483.1" r="8" fill="#a020f0"/>
<circle cx="1587.4" cy="1503.3" r="8" fill="#a020f0"/>
<circle cx="1594.2" cy="1461.7" r="8" fill="#a020f0"/>
<circle cx="1608.0" cy="1511.5" r="8" fill="#a020f0"/>
<circle cx="1612.5" cy="1504.9" r="8" fill="#a020f0"/>
<circle cx="1623.8" cy="1533.7" r="8" fill="#a020f0"/>
</g>
<line x1="146" x2="1799.6" y1="1515.06" y2="1515.06" stroke="#000" stroke-width="2.3" stroke-dasharray="8.89 8.89" clip-path="url(#c3)"/>
<line x1="146" x2="1799.6" y1="1552.94" y2="1552.94" stroke="#000" stroke-width="2.3" stroke-dasharray="8.89 8.89" clip-path="url(#c3)"/>
<rect x="146" y="1117.85" width="1653.60" height="832.10" fill="none" stroke="#333333" stroke-width="1.15"/>
<line x1="321.30" x2="321.30" y1="1949.9" y2="1956.50" stroke="#333333" stroke-width="2.2"/>
<line x1="529.10" x2="529.10" y1="1949.9" y2="1956.50" stroke="#333333" stroke-width="2.2"/>
<line x1="739.18" x2="739.18" y1="1949.9" y2="1956.50" stroke="#333333" stroke-width="2.2"/>
<line x1="949.26" x2="949.26" y1="1949.9" y2="1956.50" stroke="#333333" stroke-width="2.2"/>
<line x1="1154.78" x2="1154.78" y1="1949.9" y2="1956.50" stroke="#333333" stroke-width="2.2"/>
<line x1="1362.58" x2="1362.58" y1="1949.9" y2="1956.50" stroke="#333333" stroke-width="2.2"/>
<line x1="1572.66" x2="1572.66" y1="1949.9" y2="1956.50" stroke="#333333" stroke-width="2.2"/>
<line x1="1782.74" x2="1782.74" y1="1949.9" y2="1956.50" stroke="#333333" stroke-width="2.2"/>
<line y1="1155.14" y2="1155.14" x1="139.40" x2="146" stroke="#333333" stroke-width="2.2"/>
<line y1="1344.57" y2="1344.57" x1="139.40" x2="146" stroke="#333333" stroke-width="2.2"/>
<line y1="1534.00" y2="1534.00" x1="139.40" x2="146" stroke="#333333" stroke-width="2.2"/>
<line y1="1723.43" y2="1723.43" x1="139.40" x2="146" stroke="#333333" stroke-width="2.2"/>
<line y1="1912.86" y2="1912.86" x1="139.40" x2="146" stroke="#333333" stroke-width="2.2"/>
<text x="321.30" y="1991.70" font-size="41.8" text-anchor="middle" >04-2024</text>
<text x="529.10" y="1991.70" font-size="41.8" text-anchor="middle" >07-2024</text>
<text x="739.18" y="1991.70" font-size="41.8" text-anchor="middle" >10-2024</text>
<text x="949.26" y="1991.70" font-size="41.8" text-anchor="middle" >01-2025</text>
<text x="1154.78" y="1991.70" font-size="41.8" text-anchor="middle" >04-2025</text>
<text x="1362.58" y="1991.70" font-size="41.8" text-anchor="middle" >07-2025</text>
<text x="1572.66" y="1991.70" font-size="41.8" text-anchor="middle" >10-2025</text>
<text x="1782.74" y="1991.70" font-size="41.8" text-anchor="middle" >01-2026</text>
<text x="134.00" y="1170.24" font-size="41.8" text-anchor="end" >2</text>
<text x="134.00" y="1359.67" font-size="41.8" text-anchor="end" >1</text>
<text x="134.00" y="1549.10" font-size="41.8" text-anchor="end" >0</text>
<text x="134.00" y="1738.53" font-size="41.8" text-anchor="end" >-1</text>
<text x="134.00" y="1927.96" font-size="41.8" text-anchor="end" >-2</text>
<text transform="translate(47.00,1534.00) rotate(-90)" font-size="41.8" text-anchor="middle">Δ<tspan dx="4.5"> </tspan>N2O (In situ - Flask) [ppb]</text>
<circle cx="615.5" cy="2052.5" r="12.4" fill="#000"/>
<text x="717.50" y="2068.50" font-size="41.8" text-anchor="start" >all sites mean</text>
<circle cx="1071.4" cy="2052.5" r="12.4" fill="#a020f0"/>
<text x="1173.50" y="2068.50" font-size="41.8" text-anchor="start" >&lt;50min insitu</text>
<clipPath id="c4"><rect x="146" y="2115.4" width="1653.60" height="831.80"/></clipPath>
<g clip-path="url(#c4)">
<rect x="146" y="2115.4" width="1653.60" height="831.80" fill="#fff"/>
<line x1="146" x2="1799.6" y1="2151.88" y2="2151.88" stroke="#ebebeb" stroke-width="1.1"/>
<line x1="146" x2="1799.6" y1="2303.53" y2="2303.53" stroke="#ebebeb" stroke-width="1.1"/>
<line x1="146" x2="1799.6" y1="2455.18" y2="2455.18" stroke="#ebebeb" stroke-width="1.1"/>
<line x1="146" x2="1799.6" y1="2606.82" y2="2606.82" stroke="#ebebeb" stroke-width="1.1"/>
<line x1="146" x2="1799.6" y1="2758.47" y2="2758.47" stroke="#ebebeb" stroke-width="1.1"/>
<line x1="146" x2="1799.6" y1="2910.12" y2="2910.12" stroke="#ebebeb" stroke-width="1.1"/>
<line y1="2115.4" y2="2947.2" x1="113.50" x2="113.50" stroke="#ebebeb" stroke-width="1.1"/>
<line y1="2115.4" y2="2947.2" x1="184.29" x2="184.29" stroke="#ebebeb" stroke-width="1.1"/>
<line y1="2115.4" y2="2947.2" x1="250.51" x2="250.51" stroke="#ebebeb" stroke-width="1.1"/>
<line y1="2115.4" y2="2947.2" x1="321.30" x2="321.30" stroke="#ebebeb" stroke-width="1.1"/>
<line y1="2115.4" y2="2947.2" x1="389.81" x2="389.81" stroke="#ebebeb" stroke-width="1.1"/>
<line y1="2115.4" y2="2947.2" x1="460.59" x2="460.59" stroke="#ebebeb" stroke-width="1.1"/>
<line y1="2115.4" y2="2947.2" x1="529.10" x2="529.10" stroke="#ebebeb" stroke-width="1.1"/>
<line y1="2115.4" y2="2947.2" x1="599.89" x2="599.89" stroke="#ebebeb" stroke-width="1.1"/>
<line y1="2115.4" y2="2947.2" x1="670.68" x2="670.68" stroke="#ebebeb" stroke-width="1.1"/>
<line y1="2115.4" y2="2947.2" x1="739.18" x2="739.18" stroke="#ebebeb" stroke-width="1.1"/>
<line y1="2115.4" y2="2947.2" x1="809.97" x2="809.97" stroke="#ebebeb" stroke-width="1.1"/>
<line y1="2115.4" y2="2947.2" x1="878.47" x2="878.47" stroke="#ebebeb" stroke-width="1.1"/>
<line y1="2115.4" y2="2947.2" x1="949.26" x2="949.26" stroke="#ebebeb" stroke-width="1.1"/>
<line y1="2115.4" y2="2947.2" x1="1020.05" x2="1020.05" stroke="#ebebeb" stroke-width="1.1"/>
<line y1="2115.4" y2="2947.2" x1="1083.99" x2="1083.99" stroke="#ebebeb" stroke-width="1.1"/>
<line y1="2115.4" y2="2947.2" x1="1154.78" x2="1154.78" stroke="#ebebeb" stroke-width="1.1"/>
<line y1="2115.4" y2="2947.2" x1="1223.28" x2="1223.28" stroke="#ebebeb" stroke-width="1.1"/>
<line y1="2115.4" y2="2947.2" x1="1294.07" x2="1294.07" stroke="#ebebeb" stroke-width="1.1"/>
<line y1="2115.4" y2="2947.2" x1="1362.58" x2="1362.58" stroke="#ebebeb" stroke-width="1.1"/>
<line y1="2115.4" y2="2947.2" x1="1433.36" x2="1433.36" stroke="#ebebeb" stroke-width="1.1"/>
<line y1="2115.4" y2="2947.2" x1="1504.15" x2="1504.15" stroke="#ebebeb" stroke-width="1.1"/>
<line y1="2115.4" y2="2947.2" x1="1572.66" x2="1572.66" stroke="#ebebeb" stroke-width="1.1"/>
<line y1="2115.4" y2="2947.2" x1="1643.45" x2="1643.45" stroke="#ebebeb" stroke-width="1.1"/>
<line y1="2115.4" y2="2947.2" x1="1711.95" x2="1711.95" stroke="#ebebeb" stroke-width="1.1"/>
<line y1="2115.4" y2="2947.2" x1="1782.74" x2="1782.74" stroke="#ebebeb" stroke-width="1.1"/>
<line x1="146" x2="1799.6" y1="2227.70" y2="2227.70" stroke="#ebebeb" stroke-width="2.2"/>
<line x1="146" x2="1799.6" y1="2379.35" y2="2379.35" stroke="#ebebeb" stroke-width="2.2"/>
<line x1="146" x2="1799.6" y1="2531.00" y2="2531.00" stroke="#ebebeb" stroke-width="2.2"/>
<line x1="146" x2="1799.6" y1="2682.65" y2="2682.65" stroke="#ebebeb" stroke-width="2.2"/>
<line x1="146" x2="1799.6" y1="2834.30" y2="2834.30" stroke="#ebebeb" stroke-width="2.2"/>
<line y1="2115.4" y2="2947.2" x1="321.30" x2="321.30" stroke="#cccccc" stroke-width="2.4"/>
<line y1="2115.4" y2="2947.2" x1="529.10" x2="529.10" stroke="#cccccc" stroke-width="2.4"/>
<line y1="2115.4" y2="2947.2" x1="739.18" x2="739.18" stroke="#cccccc" stroke-width="2.4"/>
<line y1="2115.4" y2="2947.2" x1="949.26" x2="949.26" stroke="#cccccc" stroke-width="2.4"/>
<line y1="2115.4" y2="2947.2" x1="1154.78" x2="1154.78" stroke="#cccccc" stroke-width="2.4"/>
<line y1="2115.4" y2="2947.2" x1="1362.58" x2="1362.58" stroke="#cccccc" stroke-width="2.4"/>
<line y1="2115.4" y2="2947.2" x1="1572.66" x2="1572.66" stroke="#cccccc" stroke-width="2.4"/>
<line y1="2115.4" y2="2947.2" x1="1782.74" x2="1782.74" stroke="#cccccc" stroke-width="2.4"/>
</g>
<g clip-path="url(#c4)">
<line x1="146" x2="1799.6" y1="2379.35" y2="2379.35" stroke="#000" stroke-width="2.3" stroke-dasharray="8.89 8.89"/>
<line x1="146" x2="1799.6" y1="2682.65" y2="2682.65" stroke="#000" stroke-width="2.3" stroke-dasharray="8.89 8.89"/>
<polyline fill="none" stroke="#ff00ff" stroke-width="3.3" stroke-linejoin="round" points="1470.8,2410.5 1595.7,2431.1 1661.1,2410.3 1724.8,2416.5 1755.6,2493.8 1783.4,2479.2"/>
<polyline fill="none" stroke="#104e8b" stroke-width="4.2" stroke-linejoin="round" points="1469.7,2588.4 1473.3,2595.2 1475.3,2563.7 1477.9,2569.5 1508.4,2548.4 1509.7,2545.8 1511.9,2568.6 1514.5,2570.5 1517.1,2576.4 1518.8,2586.1 1521.0,2587.4 1523.3,2591.3 1525.3,2574.4 1528.2,2582.2 1529.8,2566.6 1532.7,2564.4 1534.7,2579.6 1536.9,2569.2 1538.9,2575.1 1541.5,2571.8 1543.8,2590.0 1548.3,2556.9 1550.9,2566.6 1553.0,2588.1 1556.1,2580.9 1557.4,2558.2 1560.3,2569.2 1564.5,2542.6 1566.8,2589.4 1569.1,2566.0 1571.4,2575.0 1574.0,2567.7 1578.3,2563.6 1580.2,2582.5 1583.5,2579.2 1585.0,2554.8 1587.9,2556.7 1590.9,2594.6 1594.4,2598.6 1596.4,2559.2 1598.9,2566.7 1600.9,2558.2 1603.9,2560.7 1605.4,2580.7 1608.4,2588.6 1609.9,2602.6 1612.4,2663.4 1614.7,2561.2 1617.3,2580.7 1619.3,2563.2 1621.3,2571.7 1624.8,2567.7 1628.3,2549.3 1630.6,2642.0 1633.8,2569.7 1637.3,2551.3 1640.3,2554.8 1642.0,2589.1 1644.3,2564.7 1648.9,2582.7 1651.2,2572.2 1654.2,2573.2 1655.7,2502.4 1658.2,2553.3 1660.9,2552.8 1662.7,2571.7 1667.2,2530.8 1671.7,2583.2 1674.2,2552.8 1676.6,2565.7 1678.6,2552.8 1680.6,2565.2 1683.1,2560.2 1685.5,2582.7 1687.5,2558.7 1689.5,2564.7 1692.5,2547.8 1695.9,2582.7 1698.9,2575.7 1701.4,2586.1 1703.9,2543.8 1706.9,2580.7 1710.9,2584.2 1715.4,2552.8 1717.4,2582.2 1720.4,2573.7 1722.1,2538.8 1724.4,2551.8 1726.8,2552.3 1728.8,2556.7 1733.3,2555.7 1735.6,2547.8 1740.1,2560.7 1742.6,2552.3 1747.3,2558.2 1749.8,2555.7 1751.8,2534.8 1756.2,2643.0 1763.2,2614.1 1765.7,2629.5 1768.2,2636.5 1770.2,2639.0 1772.2,2647.9 1776.7,2624.0 1782.2,2643.5 1784.7,2642.5"/>
</g>
<rect x="146" y="2115.4" width="1653.60" height="831.80" fill="none" stroke="#333333" stroke-width="1.15"/>
<line x1="321.30" x2="321.30" y1="2947.1" y2="2953.70" stroke="#333333" stroke-width="2.2"/>
<line x1="529.10" x2="529.10" y1="2947.1" y2="2953.70" stroke="#333333" stroke-width="2.2"/>
<line x1="739.18" x2="739.18" y1="2947.1" y2="2953.70" stroke="#333333" stroke-width="2.2"/>
<line x1="949.26" x2="949.26" y1="2947.1" y2="2953.70" stroke="#333333" stroke-width="2.2"/>
<line x1="1154.78" x2="1154.78" y1="2947.1" y2="2953.70" stroke="#333333" stroke-width="2.2"/>
<line x1="1362.58" x2="1362.58" y1="2947.1" y2="2953.70" stroke="#333333" stroke-width="2.2"/>
<line x1="1572.66" x2="1572.66" y1="2947.1" y2="2953.70" stroke="#333333" stroke-width="2.2"/>
<line x1="1782.74" x2="1782.74" y1="2947.1" y2="2953.70" stroke="#333333" stroke-width="2.2"/>
<line y1="2227.70" y2="2227.70" x1="139.40" x2="146" stroke="#333333" stroke-width="2.2"/>
<line y1="2379.35" y2="2379.35" x1="139.40" x2="146" stroke="#333333" stroke-width="2.2"/>
<line y1="2531.00" y2="2531.00" x1="139.40" x2="146" stroke="#333333" stroke-width="2.2"/>
<line y1="2682.65" y2="2682.65" x1="139.40" x2="146" stroke="#333333" stroke-width="2.2"/>
<line y1="2834.30" y2="2834.30" x1="139.40" x2="146" stroke="#333333" stroke-width="2.2"/>
<text x="321.30" y="2988.90" font-size="41.8" text-anchor="middle" >04-2024</text>
<text x="529.10" y="2988.90" font-size="41.8" text-anchor="middle" >07-2024</text>
<text x="739.18" y="2988.90" font-size="41.8" text-anchor="middle" >10-2024</text>
<text x="949.26" y="2988.90" font-size="41.8" text-anchor="middle" >01-2025</text>
<text x="1154.78" y="2988.90" font-size="41.8" text-anchor="middle" >04-2025</text>
<text x="1362.58" y="2988.90" font-size="41.8" text-anchor="middle" >07-2025</text>
<text x="1572.66" y="2988.90" font-size="41.8" text-anchor="middle" >10-2025</text>
<text x="1782.74" y="2988.90" font-size="41.8" text-anchor="middle" >01-2026</text>
<text x="134.00" y="2242.80" font-size="41.8" text-anchor="end" >0.2</text>
<text x="134.00" y="2394.45" font-size="41.8" text-anchor="end" >0.1</text>
<text x="134.00" y="2546.10" font-size="41.8" text-anchor="end" >0.0</text>
<text x="134.00" y="2697.75" font-size="41.8" text-anchor="end" >-0.1</text>
<text x="134.00" y="2849.40" font-size="41.8" text-anchor="end" >-0.2</text>
<text transform="translate(47.00,2530.80) rotate(-90)" font-size="41.8" text-anchor="middle">CTS Target bias N2O [ppm]</text>
<line x1="397.2" x2="493.6" y1="3049.7" y2="3049.7" stroke="#ff00ff" stroke-width="3.5"/>
<text x="552.50" y="3065.30" font-size="41.8" text-anchor="start" >Long term target bias</text>
<line x1="1005.1" x2="1100.5" y1="3049.7" y2="3049.7" stroke="#104e8b" stroke-width="3.5"/>
<text x="1159.50" y="3065.30" font-size="41.8" text-anchor="start" >Short term target bias</text>
<text x="2405.40" y="1168.00" font-size="36.1" text-anchor="middle" >Statistics on all ΔN2O</text>
<text x="2405.40" y="1219.24" font-size="36.1" text-anchor="middle" >Mean =  0.202 ppb</text>
<text x="2405.40" y="1270.48" font-size="36.1" text-anchor="middle" >Std =  0.127 ppb</text>
<text x="2405.40" y="1321.72" font-size="36.1" text-anchor="middle" >Median =  0.213 ppb</text>
<text x="2405.40" y="1372.96" font-size="36.1" text-anchor="middle" >RMSE =  0.237 ppb</text>
<text x="2405.40" y="1424.20" font-size="36.1" text-anchor="middle" >Min =  -0.049 ppb Max =  0.438 ppb</text>
<text x="2405.40" y="1475.44" font-size="36.1" text-anchor="middle" >Numbers of outliers =  0</text>
<text x="2405.40" y="1526.68" font-size="36.1" text-anchor="middle" >Numbers of invalid flasks =  0</text>
<text x="2405.40" y="1577.92" font-size="36.1" text-anchor="middle" >Number of points =  22</text>
<text x="2405.40" y="1680.40" font-size="36.1" text-anchor="middle" >Statistics on ΔN2O where in situ std &lt; 0.2 ppb</text>
<text x="2405.40" y="1731.64" font-size="36.1" text-anchor="middle" >&amp; insitu&gt;=50min</text>
<text x="2405.40" y="1782.88" font-size="36.1" text-anchor="middle" >Mean =  NaN ppb</text>
<text x="2405.40" y="1834.12" font-size="36.1" text-anchor="middle" >Std =  NA ppb</text>
<text x="2405.40" y="1885.36" font-size="36.1" text-anchor="middle" >Median =  NA ppb</text>
<text x="2405.40" y="1936.60" font-size="36.1" text-anchor="middle" >RMSE =  NaN ppb</text>
<text x="2405.40" y="1987.84" font-size="36.1" text-anchor="middle" >Min =  Inf ppb Max =  -Inf ppb</text>
<text x="2405.40" y="2039.08" font-size="36.1" text-anchor="middle" >Numbers of outliers =  0</text>
<text x="2405.40" y="2090.32" font-size="36.1" text-anchor="middle" >Number of points =  0</text>
<text x="2405.40" y="2292.80" font-size="36.1" text-anchor="middle" >Statistics on short term target bias</text>
<text x="2405.40" y="2344.04" font-size="36.1" text-anchor="middle" >Mean =  -0.029 ppb</text>
<text x="2405.40" y="2395.28" font-size="36.1" text-anchor="middle" >Std =  0.018 ppb</text>
<text x="2405.40" y="2446.52" font-size="36.1" text-anchor="middle" >Median =  -0.025 ppb</text>
<text x="2405.40" y="2497.76" font-size="36.1" text-anchor="middle" >RMSE =  0.034 ppb</text>
<text x="2405.40" y="2549.00" font-size="36.1" text-anchor="middle" >Number of points =  126</text>
<text x="2405.40" y="2651.48" font-size="36.1" text-anchor="middle" >Statistics on long term target bias</text>
<text x="2405.40" y="2702.72" font-size="36.1" text-anchor="middle" >Mean =  0.067 ppb</text>
<text x="2405.40" y="2753.96" font-size="36.1" text-anchor="middle" >Std =  0.016 ppb</text>
<text x="2405.40" y="2805.20" font-size="36.1" text-anchor="middle" >Median =  0.073 ppb</text>
<text x="2405.40" y="2856.44" font-size="36.1" text-anchor="middle" >RMSE =  0.069 ppb</text>
<text x="2405.40" y="2907.68" font-size="36.1" text-anchor="middle" >Number of points =  126</text>
</svg></body></html>
